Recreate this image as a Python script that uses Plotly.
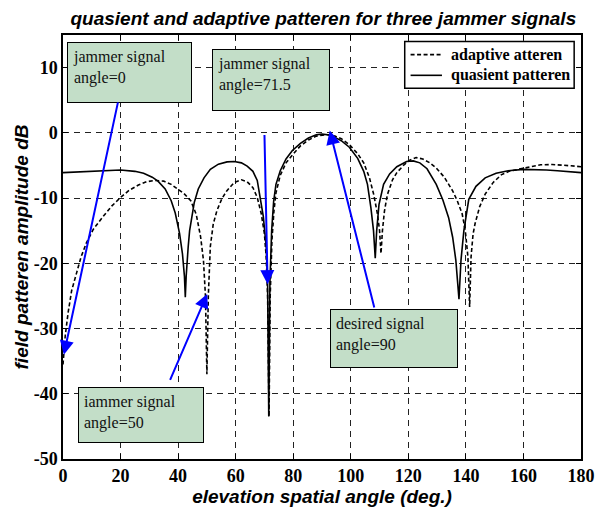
import plotly.graph_objects as go

# adaptive pattern (dashed)
adapt_angle = [0, 0.8, 1.8, 3, 4.7, 6.3, 8.1, 10.5, 13.8, 17, 20, 23, 26.2, 29, 31.9, 35, 37.6, 40, 42,
               44.4, 46.3, 47.8, 48.8, 49.5, 50, 50.5, 51.2, 52.2, 53.5, 55.2, 56.9, 59.5, 62, 64, 66,
               67.5, 68.9, 70, 70.6, 71.1, 71.6, 72.0, 72.6, 73.3, 74, 75.5, 77.5, 79.7, 82.5, 85.3,
               88, 91, 92.5, 94.5, 96.7, 99.5, 102.4, 104.5, 106.5, 108, 109.3, 110, 110.5, 111, 111.7,
               112.7, 114.5, 116, 118.5, 120.5, 122.7, 125, 127.5, 129.7, 132.5, 135.4, 137, 138.7,
               139.8, 140.7, 141.3, 141.8, 142.5, 143.2, 144.8, 146.7, 149.5, 152.4, 155, 158.1, 162,
               166, 170, 172.9, 176.5, 180]
adapt_db = [-35.5, -31, -27.5, -24.2, -21.5, -19, -16.9, -14.8, -12.9, -11.2, -9.9, -8.8, -8.0, -7.5,
            -7.3, -7.4, -7.9, -8.6, -9.3, -10.4, -12.5, -15.9, -19.5, -25, -37, -25, -17.4, -14, -11.9,
            -10.1, -8.9, -7.6, -7.2, -7.5, -8.4, -9.9, -12.4, -15.5, -19, -25, -43.5, -25, -16.5, -12,
            -9.2, -6.5, -4.6, -3.4, -2.0, -1.1, -0.5, -0.3, -0.3, -0.5, -0.9, -1.8, -3.2, -4.6, -6.9,
            -9.5, -12.5, -15, -18.5, -15, -12, -9.5, -7.2, -6.1, -4.9, -4.2, -3.8, -4.0, -4.6, -5.4,
            -6.8, -8.9, -10.4, -12.4, -15, -19, -26.7, -19, -15.5, -13.9, -11.3, -9.4, -7.6, -6.4,
            -5.9, -5.6, -5.2, -4.9, -4.85, -4.9, -5.05, -5.2]

# quiescent pattern (solid)
quas_angle = [0, 5, 10, 14, 20, 25, 28, 31, 33, 35.5, 37.6, 39, 40.5, 41.5, 42.2, 42.5, 42.8, 43.5, 44,
              45.6, 47, 49, 51.2, 54, 57, 59.5, 62, 64, 66, 67.5, 68.6, 69.6, 70.6, 71.1, 71.5, 71.9,
              72.5, 73.2, 74, 75.5, 77.5, 79.7, 82.5, 85.3, 88, 90, 92, 94.5, 96.7, 99.5, 102.4, 104.5,
              105.8, 107, 107.9, 108.5, 109, 109.8, 111.4, 113.5, 116, 119.4, 121.7, 124, 126.5, 129.7,
              132, 134, 135.4, 136.5, 137.6, 138.3, 139.3, 141, 143.5, 146.7, 150.5, 154.7, 160, 163.8,
              168, 171.8, 176, 180]
quas_db = [-6.1, -6.0, -5.9, -5.8, -5.7, -5.9, -6.2, -6.8, -7.4, -8.6, -10.4, -12.3, -15.4, -18.5, -22,
           -25.2, -22, -17.5, -15, -10.7, -8.6, -6.9, -5.6, -4.8, -4.45, -4.4, -4.6, -5.1, -5.9, -7.3,
           -9.9, -12.8, -17.4, -23, -43.5, -23, -15, -10.5, -7.9, -5.8, -4.0, -2.7, -1.6, -0.8, -0.3,
           -0.2, -0.3, -0.7, -1.2, -2.2, -3.9, -5.9, -7.9, -11.5, -15, -19.2, -15, -11, -7.9, -6.3,
           -5.2, -4.4, -4.3, -4.6, -5.5, -7.9, -10.3, -13, -16, -19.5, -25.5, -19.5, -15, -10.2, -8.2,
           -6.9, -6.2, -5.8, -5.6, -5.6, -5.7, -5.8, -6.0, -6.1]

series_names = ["adaptive atteren", "quasient patteren"]

x_ticks = [0, 20, 40, 60, 80, 100, 120, 140, 160, 180]
y_ticks = [-50, -40, -30, -20, -10, 0, 10]

# annotation boxes: text, left angle, top dB, width, height
box_text = ["jammer signal<br>angle=0", "jammer signal<br>angle=71.5",
            "desired signal<br>angle=90", "iammer signal<br>angle=50"]
box_left = [1.5, 51.9, 92.8, 5.2]
box_top = [14.0, 12.9, -27.0, -38.9]
box_w = [125, 118, 128, 126]
box_h = [61, 62, 59, 56]

# arrows: tip (x, y), tail (ax, ay)
arrow_x = [0.3, 71.1, 50.1, 92.7]
arrow_y = [-34, -23.2, -24.7, 0.35]
arrow_ax = [19.2, 70.0, 37.0, 108.3]
arrow_ay = [4.9, -0.1, -38.1, -27.0]

DASH = "4px,2.5px"
serif = "Liberation Serif"
sans = "Liberation Sans"

fig = go.Figure()
fig.add_trace(go.Scatter(x=adapt_angle, y=adapt_db, mode="lines", name=series_names[0],
                         showlegend=False, line=dict(color="black", width=1.6, dash=DASH)))
fig.add_trace(go.Scatter(x=quas_angle, y=quas_db, mode="lines", name=series_names[1],
                         showlegend=False, line=dict(color="black", width=1.6)))

annotations = []
for t, l, tp, w, h in zip(box_text, box_left, box_top, box_w, box_h):
    annotations.append(dict(x=l, y=tp, xref="x", yref="y", xanchor="left", yanchor="top",
                            text=t, showarrow=False, align="left", valign="top",
                            width=w - 12, height=h - 12, borderpad=5,
                            bgcolor="#c3dec8", bordercolor="black", borderwidth=1,
                            font=dict(family=serif, size=16, color="#111")))
for x, y, ax, ay in zip(arrow_x, arrow_y, arrow_ax, arrow_ay):
    annotations.append(dict(x=x, y=y, ax=ax, ay=ay, xref="x", yref="y", axref="x", ayref="y",
                            text="", showarrow=True, arrowhead=2, arrowsize=1.4, arrowwidth=2,
                            arrowcolor="#0000ff", standoff=0, startstandoff=0))

# legend box (drawn manually to match compact layout)
lg_x0, lg_x1, lg_y0, lg_y1 = 0.6597, 0.9868, 0.8747, 0.9845
row_y = [0.9536, 0.9049]
shapes = [dict(type="rect", xref="paper", yref="paper", x0=lg_x0, x1=lg_x1, y0=lg_y0, y1=lg_y1,
               fillcolor="white", line=dict(color="black", width=1.5), layer="above")]
for i, ry in enumerate(row_y):
    shapes.append(dict(type="line", xref="paper", yref="paper", x0=0.671, x1=0.7316, y0=ry, y1=ry,
                       line=dict(color="black", width=1.6, dash=DASH if i == 0 else "solid"),
                       layer="above"))
    annotations.append(dict(x=0.7448, y=ry, xref="paper", yref="paper", xanchor="left",
                            yanchor="middle", text=series_names[i], showarrow=False,
                            font=dict(family=serif, size=16, color="black", weight="bold")))

axis_common = dict(showline=True, linecolor="black", linewidth=1.5, mirror="ticks",
                   ticks="inside", ticklen=5, tickcolor="black", showgrid=True,
                   gridcolor="#222", gridwidth=1, griddash="6px,5px", zeroline=False,
                   tickfont=dict(family=serif, size=18, color="black", weight="bold"))
title_font = dict(family=sans, size=19, color="black", style="italic", weight="bold")

fig.update_layout(
    width=607, height=512,
    margin=dict(l=63, r=15, t=35, b=46),
    paper_bgcolor="white", plot_bgcolor="white",
    title=dict(text="quasient and adaptive patteren for three jammer signals",
               x=0.5327, xanchor="center", y=0.965, yanchor="middle", font=title_font),
    xaxis=dict(range=[0, 180], tickvals=x_ticks, ticktext=[str(v) for v in x_ticks],
               title=dict(text="elevation spatial angle (deg.)", standoff=0, font=title_font),
               **axis_common),
    yaxis=dict(range=[-50, 15], tickvals=y_ticks, ticktext=[str(v) for v in y_ticks],
               title=dict(text="field patteren amplitude dB", standoff=0, font=title_font),
               **axis_common),
    annotations=annotations,
    shapes=shapes,
    showlegend=False,
)

fig.write_html("out.html")
